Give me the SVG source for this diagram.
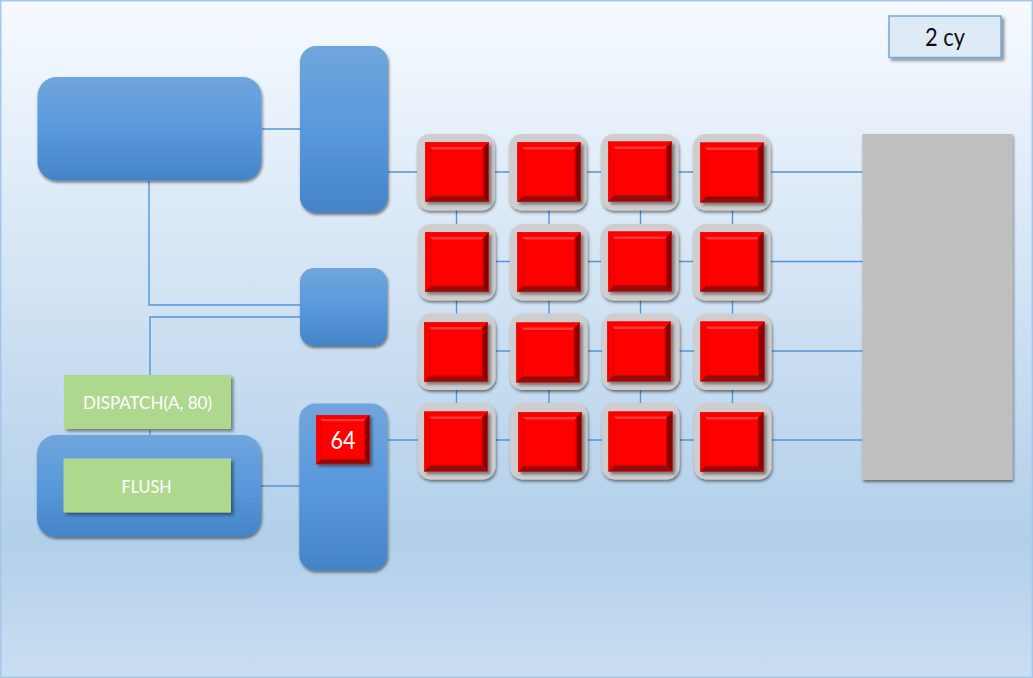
<svg xmlns="http://www.w3.org/2000/svg" width="1033" height="678" viewBox="0 0 1033 678">
<style>
.bl{fill:url(#blue);filter:url(#sh)}
.wire{stroke:#5296d6;stroke-width:1.4;fill:none}
.t{font-family:Lato,"Liberation Sans",sans-serif;text-anchor:middle}
.gr{fill:#afd88f;filter:url(#sh2)}
</style>
<defs>
<linearGradient id="bg" x1="0" y1="0" x2="0" y2="1"><stop offset="0" stop-color="#f6faff"/><stop offset=".8" stop-color="#b2cfea"/><stop offset="1" stop-color="#cadef2"/></linearGradient>
<linearGradient id="blue" x1="0" y1="0" x2="0" y2="1"><stop offset="0" stop-color="#71a5dc"/><stop offset=".5" stop-color="#5899dc"/><stop offset="1" stop-color="#4484c6"/></linearGradient>
<filter id="sh" x="-10%" y="-10%" width="125%" height="125%"><feDropShadow dx="1" dy="2" stdDeviation="1.6" flood-color="#000" flood-opacity=".5"/></filter>
<filter id="sh2" x="-10%" y="-10%" width="125%" height="125%"><feDropShadow dx="2.500" dy="2.500" stdDeviation="1.800" flood-color="#000" flood-opacity=".42"/></filter>
<g id="red">
<rect width="64" height="60" fill="#ff0000"/>
<polygon points="0,0 6,6 6,54 0,60" fill="#f80000"/>
<polygon points="6,6 7,7 7,53 6,54" fill="#e40000"/>
<polygon points="5,5 59,5 56.500,7.500 7.500,7.500" fill="#ff3a3a"/>
<polygon points="64,0 64,60 58.500,54.500 58.500,5.500" fill="#860000"/>
<polygon points="58.500,5.500 58.500,54.500 57.500,53.500 57.500,6.500" fill="#d00000"/>
<polygon points="0,60 64,60 58.500,54.500 5.500,54.500" fill="#900a0a"/>
<polygon points="5.500,54.500 58.500,54.500 57.500,53.500 6.500,53.500" fill="#d00000"/>
<rect x=".3" y=".3" width="63.4" height="59.4" fill="none" stroke="#d82020" stroke-width=".6"/>
</g>
<rect id="tile" width="77.500" height="76.500" rx="13" fill="#cfcdcd" filter="url(#sh)"/>
</defs>
<rect id="background" x=".7" y=".7" width="1031.600" height="676.600" fill="url(#bg)" stroke="#a3c6ea" stroke-width="1.500"/>
<g id="connectors" class="wire">
<path d="M262 129H300M149 181V305H300M150 376V317H300M150 430V436M261 486H300M388 172H418M388 440H419"/>
<path d="M495 172H509M587 172H601M679 172H693M771 172H863"/>
<path d="M496 261.500H510M588 261.500H601M679 261.500H693M771 261.500H863"/>
<path d="M496 351H510M588 351H602M679 351H694M772 351H863"/>
<path d="M496 440H510M588 440H602M679 440H694M772 440H863"/>
<path d="M456.500 210V224M549 210V224M640.500 210V224M732.500 210V224"/>
<path d="M456.500 300V314M549 300V314M640.500 300V314M732.500 300V314"/>
<path d="M456.500 389V403M549 389V403M640.500 389V403M732.500 389V403"/>
</g>
<g id="box-top-left"><rect class="bl" x="37.500" y="77" width="224" height="103.500" rx="19"/></g>
<g id="bus-top"><rect class="bl" x="300" y="46" width="88" height="167" rx="16"/></g>
<g id="box-mid"><rect class="bl" x="300" y="268" width="87" height="78" rx="14"/></g>
<g id="bus-bottom"><rect class="bl" x="299.300" y="403.500" width="88" height="167" rx="16"/>
<use href="#red" transform="translate(316 415) scale(.84 .82)" filter="url(#sh2)"/>
<text class="t" x="343" y="448.500" font-size="25" fill="#fff" textLength="25" lengthAdjust="spacingAndGlyphs">64</text></g>
<g id="box-bottom-left"><rect class="bl" x="37" y="435" width="224" height="102" rx="19"/></g>
<g id="dispatch"><rect class="gr" x="64" y="375" width="167" height="54"/>
<text class="t" x="147.500" y="408.800" font-size="18" fill="#fff" textLength="129" lengthAdjust="spacingAndGlyphs">DISPATCH(A, 80)</text></g>
<g id="flush"><rect class="gr" x="63.500" y="458.500" width="167.500" height="54"/>
<text class="t" x="146.500" y="492.500" font-size="18" fill="#fff" textLength="50" lengthAdjust="spacingAndGlyphs">FLUSH</text></g>
<g id="cells">
<g id="c11"><use href="#tile" x="417" y="134"/><use href="#red" x="425" y="142" filter="url(#sh2)"/></g>
<g id="c12"><use href="#tile" x="509" y="134"/><use href="#red" x="517" y="142" filter="url(#sh2)"/></g>
<g id="c13"><use href="#tile" x="601" y="134"/><use href="#red" x="608" y="141.500" filter="url(#sh2)"/></g>
<g id="c14"><use href="#tile" x="693" y="134"/><use href="#red" x="700" y="142.500" filter="url(#sh2)"/></g>
<g id="c21"><use href="#tile" x="418" y="224"/><use href="#red" x="425" y="232" filter="url(#sh2)"/></g>
<g id="c22"><use href="#tile" x="510" y="224"/><use href="#red" x="517" y="232" filter="url(#sh2)"/></g>
<g id="c23"><use href="#tile" x="601" y="224"/><use href="#red" x="608" y="231.500" filter="url(#sh2)"/></g>
<g id="c24"><use href="#tile" x="693" y="224"/><use href="#red" x="700" y="232" filter="url(#sh2)"/></g>
<g id="c31"><use href="#tile" x="418" y="313.500"/><use href="#red" x="424" y="322" filter="url(#sh2)"/></g>
<g id="c32"><use href="#tile" x="510" y="313.500"/><use href="#red" x="516" y="322.500" filter="url(#sh2)"/></g>
<g id="c33"><use href="#tile" x="602" y="313.500"/><use href="#red" x="607" y="321.500" filter="url(#sh2)"/></g>
<g id="c34"><use href="#tile" x="694" y="313.500"/><use href="#red" x="700.500" y="321.500" filter="url(#sh2)"/></g>
<g id="c41"><use href="#tile" x="418" y="403"/><use href="#red" x="424" y="411.500" filter="url(#sh2)"/></g>
<g id="c42"><use href="#tile" x="510" y="403"/><use href="#red" x="518" y="412" filter="url(#sh2)"/></g>
<g id="c43"><use href="#tile" x="602" y="403"/><use href="#red" x="608.500" y="411.500" filter="url(#sh2)"/></g>
<g id="c44"><use href="#tile" x="694" y="403"/><use href="#red" x="700" y="412" filter="url(#sh2)"/></g>
</g>
<g id="gray-block"><rect x="862.500" y="134" width="150" height="346" fill="#bfbfbf" filter="url(#sh)"/></g>
<g id="legend"><rect x="889" y="16" width="112" height="41.500" fill="#deeaf6" stroke="#70a9dc" stroke-width="1.500" filter="url(#sh2)"/>
<text class="t" x="945" y="45.500" font-size="25" fill="#111" textLength="40" lengthAdjust="spacingAndGlyphs">2 cy</text></g>
</svg>
